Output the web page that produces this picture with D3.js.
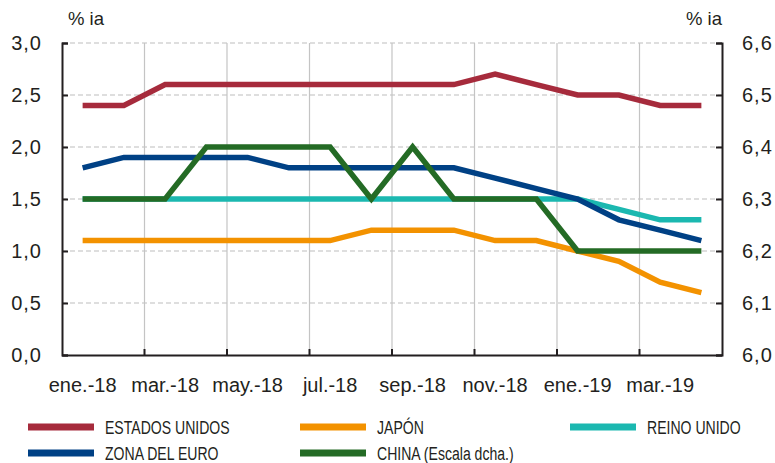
<!DOCTYPE html>
<html>
<head>
<meta charset="utf-8">
<script src="https://cdn.jsdelivr.net/npm/d3@7"></script>
<style>
  body { margin: 0; background: #fff; }
  text { font-family: "Liberation Sans", Arial, sans-serif; fill: #231f20; }
</style>
</head>
<body>
<div id="chart"></div>
<script>
// Data
var months = ["ene.-18", "feb.-18", "mar.-18", "abr.-18", "may.-18", "jun.-18", "jul.-18", "ago.-18",
  "sep.-18", "oct.-18", "nov.-18", "dic.-18", "ene.-19", "feb.-19", "mar.-19", "abr.-19"];
var xLabels = ["ene.-18", "mar.-18", "may.-18", "jul.-18", "sep.-18", "nov.-18", "ene.-19", "mar.-19"];
var leftTicks = [0, 0.5, 1.0, 1.5, 2.0, 2.5, 3.0];
var rightTicks = [6.0, 6.1, 6.2, 6.3, 6.4, 6.5, 6.6];

var usa   = [2.4, 2.4, 2.6, 2.6, 2.6, 2.6, 2.6, 2.6, 2.6, 2.6, 2.7, 2.6, 2.5, 2.5, 2.4, 2.4];
var japan = [1.1, 1.1, 1.1, 1.1, 1.1, 1.1, 1.1, 1.2, 1.2, 1.2, 1.1, 1.1, 1.0, 0.9, 0.7, 0.6];
var uk    = [1.5, 1.5, 1.5, 1.5, 1.5, 1.5, 1.5, 1.5, 1.5, 1.5, 1.5, 1.5, 1.5, 1.4, 1.3, 1.3];
var euro  = [1.8, 1.9, 1.9, 1.9, 1.9, 1.8, 1.8, 1.8, 1.8, 1.8, 1.7, 1.6, 1.5, 1.3, 1.2, 1.1];
var china = [6.3, 6.3, 6.3, 6.4, 6.4, 6.4, 6.4, 6.3, 6.4, 6.3, 6.3, 6.3, 6.2, 6.2, 6.2, 6.2];

var series = [
  { name: "ESTADOS UNIDOS", values: usa, color: "#a62b3c", axis: "left" },
  { name: "JAPÓN", values: japan, color: "#f39200", axis: "left" },
  { name: "REINO UNIDO", values: uk, color: "#1bb8b0", axis: "left" },
  { name: "ZONA DEL EURO", values: euro, color: "#004185", axis: "left" },
  { name: "CHINA (Escala dcha.)", values: china, color: "#246b25", axis: "right" }
];
// draw order: teal under green
var drawOrder = [2, 0, 1, 3, 4];

var svgWidth = 775;
var svgHeight = 463;
var margin = { top: 43, right: 53, bottom: 108, left: 62 };
var width = svgWidth - margin.left - margin.right;
var height = svgHeight - margin.top - margin.bottom;

var svg = d3.select("#chart")
  .append("svg")
  .attr("width", svgWidth)
  .attr("height", svgHeight);

var chartGroup = svg.append("g")
  .attr("transform", `translate(${margin.left}, ${margin.top})`);

// Scales
var xBand = d3.scaleBand().domain(months).range([0, width]);
var yLeft = d3.scaleLinear().domain([0, 3]).range([height, 0]);
var yRight = d3.scaleLinear().domain([6.0, 6.6]).range([height, 0]);
var xc = m => xBand(m) + xBand.bandwidth() / 2;

// Grid: horizontal dashed
chartGroup.selectAll(".hgrid")
  .data(leftTicks.filter(d => d > 0))
  .enter()
  .append("line")
  .attr("x1", 0)
  .attr("x2", width)
  .attr("y1", d => yLeft(d))
  .attr("y2", d => yLeft(d))
  .attr("stroke", "#bdbdbd")
  .attr("stroke-width", 1.2)
  .attr("stroke-dasharray", "5,3");

// Grid: vertical every 2 months
var vBounds = months.filter((m, i) => i > 0 && i % 2 === 0);
chartGroup.selectAll(".vgrid")
  .data(vBounds)
  .enter()
  .append("line")
  .attr("x1", d => xBand(d))
  .attr("x2", d => xBand(d))
  .attr("y1", 0)
  .attr("y2", height)
  .attr("stroke", "#c4c4c4")
  .attr("stroke-width", 1.2);

// Lines
var line = d3.line().curve(d3.curveLinear);
drawOrder.forEach(function(k) {
  var s = series[k];
  var yS = s.axis === "left" ? yLeft : yRight;
  chartGroup.append("path")
    .attr("d", line(s.values.map((v, i) => [xc(months[i]), yS(v)])))
    .attr("fill", "none")
    .attr("stroke", s.color)
    .attr("stroke-width", 5.5)
    .attr("stroke-linejoin", "miter");
});

// Axes
var fmt = d => d3.format(".1f")(d).replace(".", ",");
var leftAxis = d3.axisLeft(yLeft).tickValues(leftTicks).tickSize(-6).tickPadding(20).tickFormat(fmt);
var rightAxis = d3.axisRight(yRight).tickValues(rightTicks).tickSize(-6).tickPadding(20).tickFormat(fmt);
var bottomAxis = d3.axisBottom(xBand).tickValues([]).tickSizeOuter(0);

var gl = chartGroup.append("g").call(leftAxis);
var gr = chartGroup.append("g").attr("transform", `translate(${width}, 0)`).call(rightAxis);
var gb = chartGroup.append("g").attr("transform", `translate(0, ${height})`).call(bottomAxis);

[gl, gr, gb].forEach(function(g) {
  g.attr("font-size", null).attr("font-family", null);
  g.select(".domain").attr("stroke", "#231f20").attr("stroke-width", 2);
  g.selectAll(".tick line").attr("stroke", "#231f20").attr("stroke-width", 2);
  g.selectAll(".tick text")
    .attr("fill", "#231f20")
    .style("font-size", "20px")
    .style("letter-spacing", "1px");
});
gl.selectAll(".tick text").attr("x", -20);

// bottom tick marks at the vertical gridlines (inside)
chartGroup.selectAll(".xtick")
  .data(vBounds)
  .enter()
  .append("line")
  .attr("x1", d => xBand(d))
  .attr("x2", d => xBand(d))
  .attr("y1", height)
  .attr("y2", height - 6)
  .attr("stroke", "#231f20")
  .attr("stroke-width", 2);

// x labels centered on their month
chartGroup.selectAll(".xlabel")
  .data(xLabels)
  .enter()
  .append("text")
  .attr("x", d => xc(d))
  .attr("y", height + 37)
  .attr("text-anchor", "middle")
  .style("font-size", "20px")
  .text(d => d);

// unit labels
svg.append("text").attr("x", 68).attr("y", 25).style("font-size", "18.5px").text("% ia");
svg.append("text").attr("x", 722).attr("y", 25).attr("text-anchor", "end").style("font-size", "18.5px").text("% ia");

// Legend
var legendPos = [[28, 427], [300, 427], [570, 427], [28, 453], [300, 453]];
var legend = svg.append("g").attr("class", "legend");
series.forEach(function(s, i) {
  var p = legendPos[i];
  legend.append("rect")
    .attr("x", p[0])
    .attr("y", p[1] - 3.5)
    .attr("width", 66)
    .attr("height", 7)
    .attr("fill", s.color);
  legend.append("text")
    .attr("transform", `translate(${p[0] + 77}, ${p[1] + 6.5}) scale(0.74, 1)`)
    .style("font-size", "19px")
    .text(s.name);
});
</script>
</body>
</html>
